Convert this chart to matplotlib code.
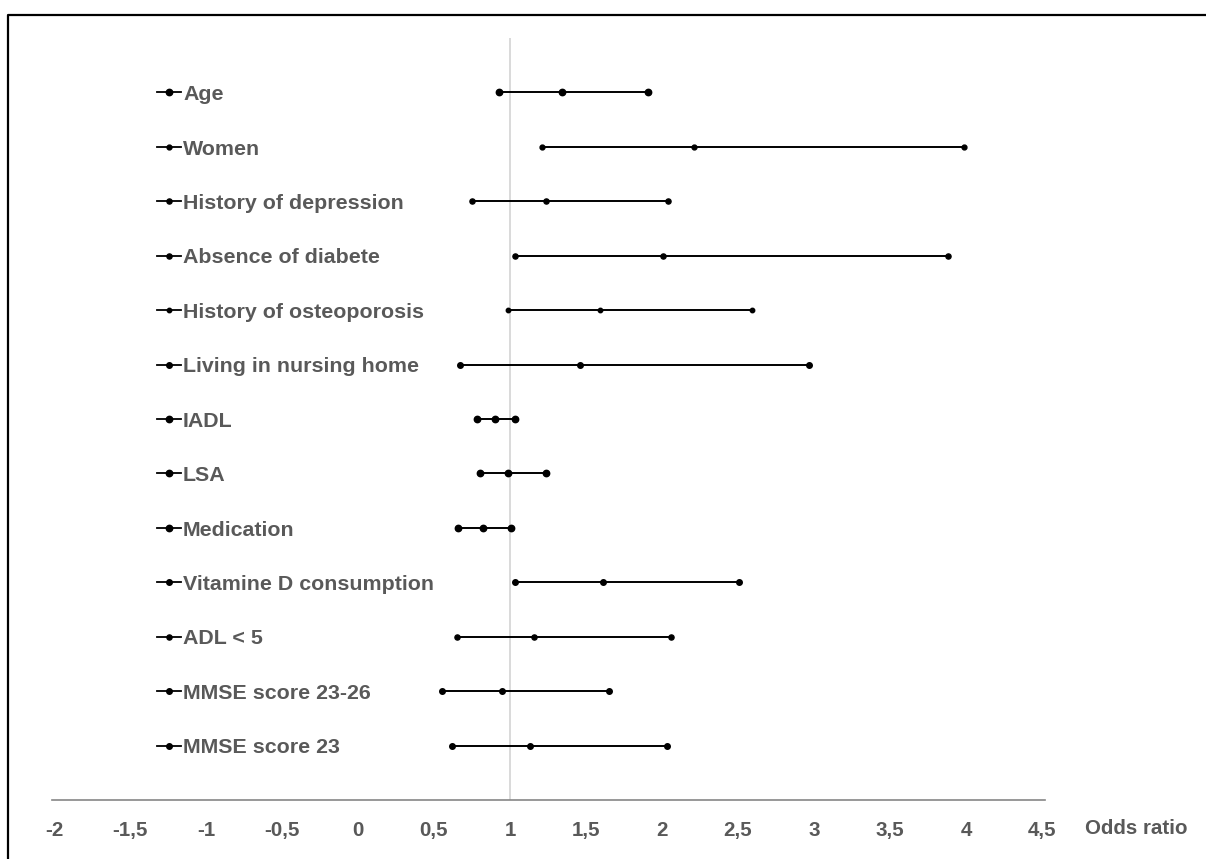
import matplotlib
matplotlib.use("Agg")
import matplotlib.pyplot as plt
import matplotlib.transforms as mtransforms
from matplotlib.lines import Line2D

plt.rcParams['font.family'] = ['Liberation Sans', 'DejaVu Sans']

# odds ratios with 95% CI
factors = ["Age", "Women", "History of depression", "Absence of diabete",
           "History of osteoporosis", "Living in nursing home", "IADL", "LSA",
           "Medication", "Vitamine D consumption", "ADL < 5",
           "MMSE score 23-26", "MMSE score 23"]
lower = [0.93, 1.21, 0.75, 1.03, 0.99, 0.67, 0.78, 0.80, 0.66, 1.03, 0.65, 0.55, 0.62]
odds = [1.34, 2.21, 1.24, 2.01, 1.59, 1.46, 0.90, 0.99, 0.82, 1.61, 1.16, 0.95, 1.13]
upper = [1.91, 3.99, 2.04, 3.88, 2.59, 2.97, 1.03, 1.24, 1.01, 2.51, 2.06, 1.65, 2.03]
msize = [4.6, 3.5, 3.7, 3.7, 3.2, 4.0, 4.6, 4.6, 4.6, 4.0, 3.7, 4.0, 4.0]
xticks = [-2, -1.5, -1, -0.5, 0, 0.5, 1, 1.5, 2, 2.5, 3, 3.5, 4, 4.5]

grey = "#595959"
fsize = 15.4

fig = plt.figure(figsize=(12.06, 8.59), dpi=100)
ax = fig.add_axes([52 / 1206, 1 - 800 / 859, 993 / 1206, 762 / 859])

ax.axvline(1, color="#d9d9d9", lw=1.4, zorder=0)

blend = mtransforms.blended_transform_factory(ax.transAxes, ax.transData)
for i, name in enumerate(factors):
    row = i + 1
    ax.plot([lower[i], odds[i], upper[i]], [row] * 3, color="black", lw=1.4,
            marker="o", ms=msize[i], zorder=3)
    # legend-like key on the left
    ax.plot([0.1057, 0.1178, 0.1299], [row] * 3, color="black", lw=1.3,
            marker="o", ms=msize[i], markevery=[1], transform=blend,
            clip_on=False)
    ax.annotate(name, xy=(0.1319, row), xycoords=blend,
                xytext=(0, -0.358 * fsize), textcoords="offset points",
                ha="left", va="baseline",
                fontsize=fsize, fontweight="bold", color=grey)

ax.set_xlim(-2.013, 4.52)
ax.set_ylim(14, 0)
ax.set_xticks(xticks)
ax.set_xticklabels([("%g" % t).replace(".", ",") for t in xticks],
                   fontsize=14.8, fontweight="bold", color=grey)
ax.tick_params(axis="x", length=0, pad=15)
ax.set_yticks([])
for s in ["top", "left", "right"]:
    ax.spines[s].set_visible(False)
ax.spines["bottom"].set_color("#868686")
ax.spines["bottom"].set_linewidth(1.2)

fig.text(1085 / 1206, 1 - 828 / 859, "Odds ratio", ha="left", va="center",
         fontsize=14.8, fontweight="bold", color=grey)

# outer frame, cut off at the right and bottom edges
bx, by = 7.5 / 1206, 1 - 14.5 / 859
fig.lines.append(Line2D([bx, bx, 1.0], [0.0, by, by], transform=fig.transFigure,
                        color="black", lw=1.6))

fig.savefig("out.png", dpi=100)
